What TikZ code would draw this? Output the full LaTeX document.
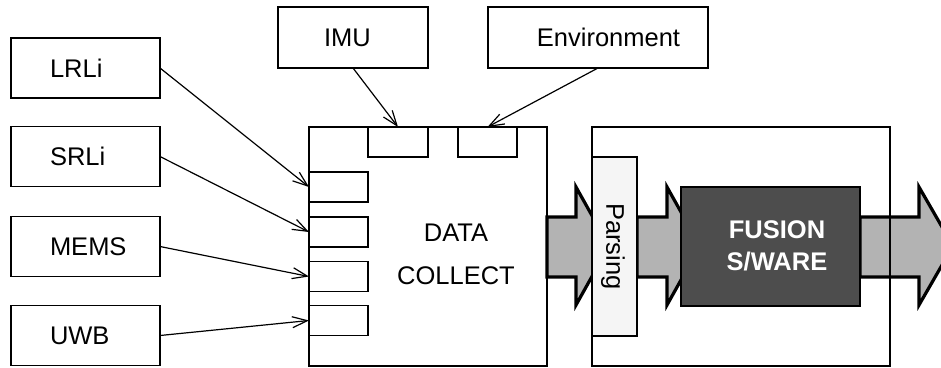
\documentclass[tikz,border=0pt]{standalone}
\usepackage{fontspec}
\setmainfont{Liberation Sans}
\usetikzlibrary{arrows.meta}
\definecolor{arrowgray}{HTML}{B3B3B3}
\definecolor{parsegray}{HTML}{F5F5F5}
\definecolor{fusiongray}{HTML}{4D4D4D}
\begin{document}
\begin{tikzpicture}[x=1pt,y=-1pt,
  every node/.style={font=\fontsize{25.5}{30}\selectfont},
  box/.style={draw, line width=1.5pt, inner sep=0pt, outer sep=0pt},
  sensor/.style={box, minimum width=149pt, minimum height=60pt, text width=71pt, align=left, inner xsep=39pt},
  topbox/.style={box, minimum height=61pt},
  port/.style={box, minimum width=59pt, minimum height=30pt},
  txt/.style={inner sep=0pt},
  feed/.style={line width=1.2pt, -{Straight Barb[length=15pt,width=11pt,line width=1.2pt]}},
  bigarrow/.style={draw=black, line width=3.2pt, fill=arrowgray, line join=miter}
]
\useasboundingbox (0,0) rectangle (941,367);
\clip (0,0) rectangle (941,367);

% sensor boxes
\node[sensor] (lrli) at (85.5,68) {LRLi};
\node[sensor] (srli) at (85.5,156.5) {SRLi};
\node[sensor] (mems) at (85.5,246.5) {MEMS};
\node[sensor] (uwb)  at (85.5,335.5) {UWB};

% top boxes
\node[topbox, minimum width=150pt] (imu) at (353,37.5) {};
\node[txt] (imut) at (347.5,37.5) {IMU};
\node[topbox, minimum width=220pt] (env) at (598,37.5) {};
\node[txt] (envt) at (608.5,37.5) {Environment};

% big arrows
\draw[bigarrow] (547,217) -- (576,217) -- (576,187) -- (609,246) -- (576,305) -- (576,277) -- (547,277) -- cycle;
\draw[bigarrow] (637,217) -- (667,217) -- (667,187) -- (700,246) -- (667,305) -- (667,277) -- (637,277) -- cycle;
\draw[bigarrow] (860,217) -- (919,217) -- (919,187) -- (953,246) -- (919,305) -- (919,277) -- (860,277) -- cycle;

% data collect
\node[box, minimum width=238pt, minimum height=239pt] (dc) at (428,246.5) {};
\node[txt, align=center, font=\fontsize{25.5}{43}\selectfont] (dct) at (456,254) {DATA\\COLLECT};

% ports
\node[port, minimum width=60pt] (pimu) at (398,142) {};
\node[port] (penv) at (487.5,142) {};
\node[port] (p1) at (338.5,187) {};
\node[port] (p2) at (338.5,232) {};
\node[port] (p3) at (338.5,276.5) {};
\node[port] (p4) at (338.5,320.5) {};

% right box
\node[box, minimum width=298pt, minimum height=239pt] (sw) at (741,246.5) {};
\node[box, line width=2pt, fill=parsegray, minimum width=45pt, minimum height=179pt] (parse) at (614.5,246.5) {};
\node[txt, rotate=-90] (parset) at (613,246.5) {Parsing};
\node[box, line width=2.5pt, fill=fusiongray, minimum width=179pt, minimum height=119pt] (fusion) at (770.5,246.5) {};
\node[txt, align=center, text=white, font=\fontsize{25.5}{32}\selectfont\bfseries] (fusiont) at (777,246) {FUSION\\S/WARE};

% feeds
\draw[feed] (lrli.east) -- (p1.west);
\draw[feed] (srli.east) -- (p2.west);
\draw[feed] (mems.east) -- (p3.west);
\draw[feed] (uwb.east) -- (p4.west);
\draw[feed] (imu.south) -- (pimu.north);
\draw[feed] (env.south) -- (penv.north);
\end{tikzpicture}
\end{document}
